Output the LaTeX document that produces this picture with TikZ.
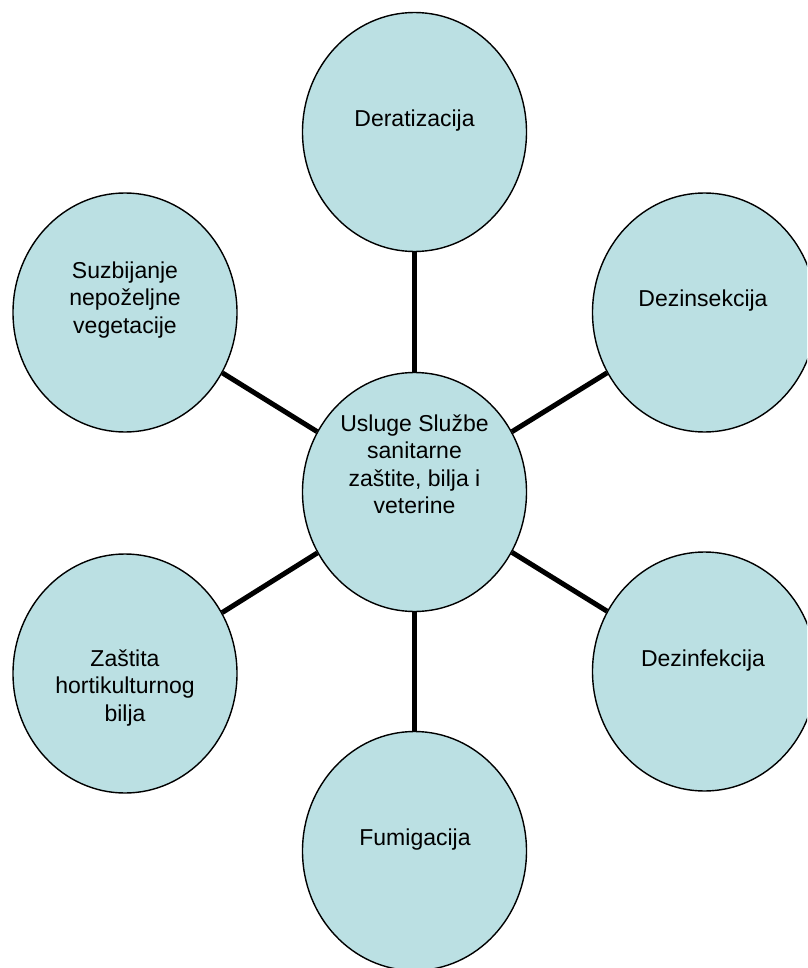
\documentclass[tikz,border=0pt]{standalone}
\usepackage{fontspec}
\setmainfont{Liberation Sans}
\usetikzlibrary{shapes.geometric}
\definecolor{bubblefill}{RGB}{187,224,227}
\begin{document}
\begin{tikzpicture}[x=1pt,y=-1pt,
  bubble/.style={ellipse,draw=black,line width=1.4pt,fill=bubblefill,inner sep=0pt,minimum width=224pt,minimum height=239pt},
  lbl/.style={font=\fontsize{23}{27.5}\selectfont,align=center,inner sep=0pt,text=black},
  spoke/.style={line width=5pt,black}]
\useasboundingbox (0,0) rectangle (807,968);
\clip (0,0) rectangle (807,968);
\node[bubble] (c) at (414.5,492) {};
\node[bubble] (t) at (414.5,132) {};
\node[bubble] (ur) at (704.5,312.5) {};
\node[bubble] (lr) at (704.5,671.5) {};
\node[bubble] (b) at (414.5,851) {};
\node[bubble] (ll) at (125,673.5) {};
\node[bubble] (ul) at (125,312.5) {};
\draw[spoke] (c) -- (t);
\draw[spoke] (c) -- (ur);
\draw[spoke] (c) -- (lr);
\draw[spoke] (c) -- (b);
\draw[spoke] (c) -- (ll);
\draw[spoke] (c) -- (ul);
\node[lbl,anchor=base] (tt) at (414.5,127) {Deratizacija};
\node[lbl,anchor=base] (urt) at (703,306) {Dezinsekcija};
\node[lbl,anchor=base] (lrt) at (703,666) {Dezinfekcija};
\node[lbl,anchor=base] (bt) at (415,845) {Fumigacija};
\node[lbl] (ult) at (125,300) {Suzbijanje\\nepoželjne\\vegetacije};
\node[lbl] (llt) at (125,688) {Zaštita\\hortikulturnog\\bilja};
\node[lbl] (ct) at (414.5,464) {Usluge Službe\\sanitarne\\zaštite, bilja i\\veterine};
\end{tikzpicture}
\end{document}
